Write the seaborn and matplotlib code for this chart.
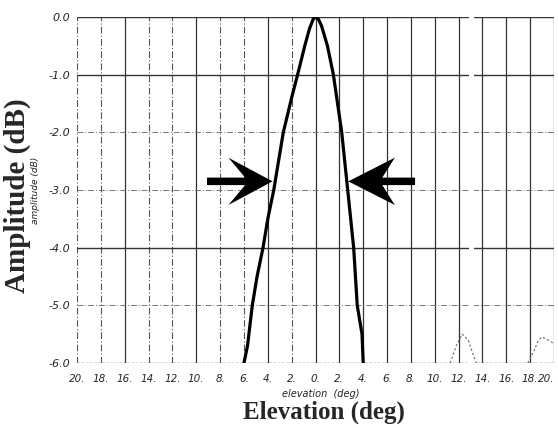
import matplotlib
matplotlib.use("Agg")
import matplotlib.pyplot as plt
import seaborn as sns
import numpy as np
import pandas as pd

# main beam (elevation deg, amplitude dB)
beam_el = [-6.0, -5.7, -5.3, -4.9, -4.4, -4.0, -3.5, -2.7, -2.0, -1.5, -0.9, -0.5, -0.2, 0.0, 0.25, 0.5, 1.0, 1.5, 2.2, 2.7, 3.2, 3.5, 3.9, 4.0]
beam_db = [-6.0, -5.7, -5.0, -4.5, -4.0, -3.5, -3.0, -2.0, -1.4, -1.0, -0.5, -0.2, -0.04, 0.0, -0.04, -0.15, -0.5, -1.0, -2.0, -3.0, -4.0, -5.0, -5.5, -6.0]
# faint sidelobes
lobe1_el = [11.3, 11.8, 12.3, 12.8, 13.3, 13.5]
lobe1_db = [-6.0, -5.7, -5.5, -5.6, -5.9, -6.0]
lobe2_el = [17.8, 18.3, 18.7, 19.0, 19.5, 19.9]
lobe2_db = [-6.0, -5.8, -5.6, -5.55, -5.6, -5.65]

x_ticks = [-20, -18, -16, -14, -12, -10, -8, -6, -4, -2, 0, 2, 4, 6, 8, 10, 12, 14, 16, 18, 20]
x_labels = ["20.", "18.", "16.", "14.", "12.", "10.", "8.", "6.", "4.", "2.", "0.", "2.", "4.", "6.", "8.", "10.", "12.", "14.", "16.", "18.", "20."]
y_ticks = [0, -1, -2, -3, -4, -5, -6]
y_labels = ["0.0", "-1.0", "-2.0", "-3.0", "-4.0", "-5.0", "-6.0"]

# half-power marker arrows: tip, back of head, notch, tail (deg) at level (dB)
arrow_level = -2.85
left_arrow = dict(tip=-3.6, back=-7.3, notch=-5.9, tail=-9.1)
right_arrow = dict(tip=2.75, back=6.65, notch=5.6, tail=8.35)

sns.set_style("white")
fig = plt.figure(figsize=(5.58, 4.28), dpi=100)
ax = fig.add_axes([77/558, 1 - 363/428, (554-77)/558, (363-17)/428])
ax.set_xlim(-20, 20)
ax.set_ylim(-6, 0)
for s in ax.spines.values():
    s.set_visible(False)

# grid
dashdot_x = {-20, -18, -14, -12, -8, -6, -2}
for xv in x_ticks:
    if xv in dashdot_x:
        ax.axvline(xv, color="#555555", lw=0.8, ls=(0, (6, 2, 1, 2)), zorder=1)
    else:
        ax.axvline(xv, color="#333333", lw=0.9, zorder=1)
for yv in y_ticks:
    if yv in (0, -1, -4):
        ax.axhline(yv, color="#333333", lw=1.0, zorder=1)
    elif yv == -6:
        ax.axhline(yv, color="#444444", lw=1.0, ls=(0, (2, 1)), zorder=1)
    else:
        ax.axhline(yv, color="#777777", lw=0.7, ls=(0, (6, 2, 1, 2)), zorder=1)
ax.axvspan(12.85, 13.25, color="white", zorder=2, lw=0)

df = pd.DataFrame({"el": beam_el, "db": beam_db})
sns.lineplot(data=df, x="el", y="db", ax=ax, color="black", lw=2.3, sort=False, zorder=5)
sns.lineplot(x=lobe1_el, y=lobe1_db, ax=ax, color="#666666", lw=0.8, ls=(0, (2, 2)), sort=False, zorder=4)
sns.lineplot(x=lobe2_el, y=lobe2_db, ax=ax, color="#666666", lw=0.8, ls=(0, (2, 2)), sort=False, zorder=4)

# arrows as notched polygons
hw = 0.41   # head half-height in dB
sw = 0.065  # shaft half-height in dB
for a in (left_arrow, right_arrow):
    xs = [a["tip"], a["back"], a["notch"], a["tail"], a["tail"], a["notch"], a["back"]]
    ys = [arrow_level, arrow_level + hw, arrow_level + sw, arrow_level + sw,
          arrow_level - sw, arrow_level - sw, arrow_level - hw]
    ax.fill(xs, ys, color="black", zorder=6, lw=0)

ax.set_xticks(x_ticks)
ax.set_xticklabels(x_labels, fontstyle="italic", fontsize=7.5)
ax.set_yticks(y_ticks)
ax.set_yticklabels(y_labels, fontstyle="italic", fontsize=8)
ax.tick_params(axis="x", length=0, pad=8)
ax.tick_params(axis="y", length=0, pad=5)
ax.get_xticklabels()[-1].set_horizontalalignment("right")
ax.set_xlabel("")
ax.set_ylabel("")

# titles
fig.text(324/558, 1 - 412/428, "Elevation (deg)", ha="center", va="center",
         fontsize=18, fontweight="bold", family="Liberation Serif")
fig.text(321/558, 1 - 394/428, "elevation  (deg)", ha="center", va="center",
         fontsize=7, fontstyle="italic", color="#222222")
fig.text(17/558, 1 - 196/428, "Amplitude (dB)", ha="center", va="center", rotation=90,
         fontsize=21, fontweight="bold", family="Liberation Serif")
fig.text(36/558, 1 - 190/428, "amplitude (dB)", ha="center", va="center", rotation=90,
         fontsize=6.5, fontstyle="italic", color="#222222")

fig.savefig("out.png", dpi=100)
